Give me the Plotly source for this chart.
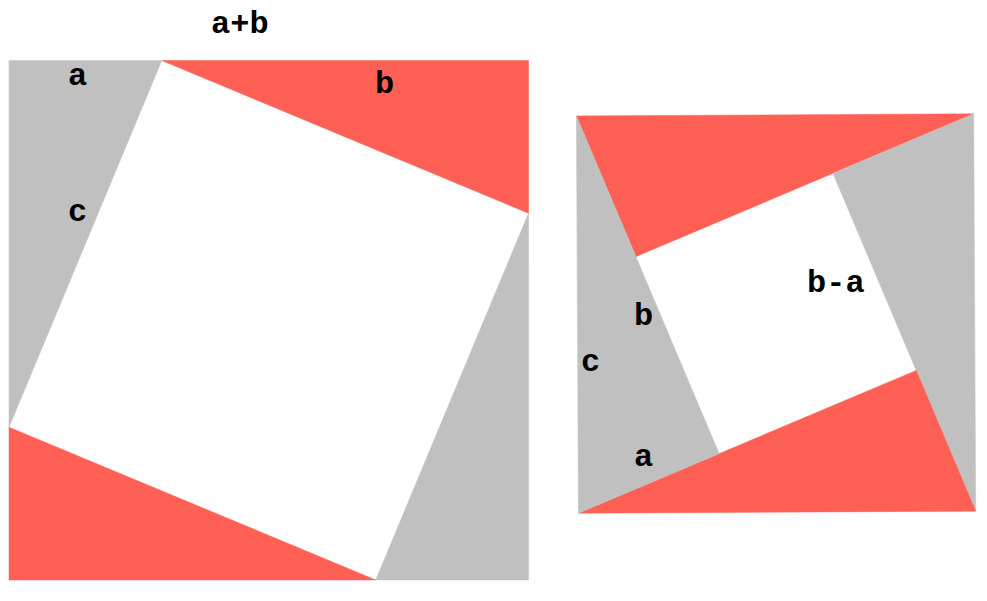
import math
import plotly.graph_objects as go

# --- data -------------------------------------------------------------
a = 5.0   # short leg
b = 12.0  # long leg
c = math.hypot(a, b)
left_labels = ["a+b", "a", "c", "b"]
right_labels = ["b-a", "b", "c", "a"]
triangle_colors = ["#C0C0C0", "#FF6056", "#C0C0C0", "#FF6056"]

# --- layout constants -------------------------------------------------
PAGE_MARGIN = 8          # browser default body margin
W, H = 987 - 2 * PAGE_MARGIN, 601 - 2 * PAGE_MARGIN
S = 30.56                # px per unit
X0, Y0 = 9 - PAGE_MARGIN, 580 - PAGE_MARGIN   # pixel of data origin inside figure
right_center = (25.10, 8.72)
right_rot = math.radians(0.29)
left_label_pos = [(7.56, 18.19), (2.23, 16.49), (2.23, 12.04), (12.30, 16.23)]
right_label_pos = [(27.06, 9.69), (20.75, 8.61), (19.04, 7.13), (20.75, 4.02)]
FONT = dict(family="Liberation Mono", size=32, color="black")

fig = go.Figure()

def add_tri(pts, color):
    xs = [p[0] for p in pts] + [pts[0][0]]
    ys = [p[1] for p in pts] + [pts[0][1]]
    fig.add_trace(go.Scatter(x=xs, y=ys, mode="lines", fill="toself",
                             fillcolor=color, line=dict(color=color, width=0.5),
                             hoverinfo="skip", showlegend=False))

# left square (side a+b): four triangles around tilted square c
n = a + b
left_tris = [
    [(0, n), (a, n), (0, a)],        # top-left  grey
    [(a, n), (n, n), (n, b)],        # top-right red
    [(n, b), (n, 0), (b, 0)],        # bottom-right grey
    [(b, 0), (0, 0), (0, a)],        # bottom-left red
]
for tri, col in zip(left_tris, triangle_colors):
    add_tri(tri, col)

# right square (side c) with inner square (b-a)
cx, cy = right_center
h = c / 2
local = [(-h, h), (h, h), (h, -h), (-h, -h)]  # TL, TR, BR, BL
cs, sn = math.cos(right_rot), math.sin(right_rot)
P = [(cx + x * cs - y * sn, cy + x * sn + y * cs) for x, y in local]
right_colors = ["#FF6056", "#C0C0C0", "#FF6056", "#C0C0C0"]
for i in range(4):
    p0, p1 = P[i], P[(i + 1) % 4]
    ux, uy = (p1[0] - p0[0]) / c, (p1[1] - p0[1]) / c
    vx, vy = uy, -ux
    q = (p0[0] + (a * a / c) * ux + (a * b / c) * vx,
         p0[1] + (a * a / c) * uy + (a * b / c) * vy)
    add_tri([p0, p1, q], right_colors[i])

for txt, (x, y) in zip(left_labels + right_labels, left_label_pos + right_label_pos):
    fig.add_annotation(x=x, y=y, text="<b>%s</b>" % txt, showarrow=False,
                       font=FONT, xanchor="center", yanchor="middle")

fig.update_layout(
    width=W, height=H, margin=dict(l=0, r=0, t=0, b=0),
    paper_bgcolor="white", plot_bgcolor="white",
    xaxis=dict(range=[-X0 / S, (W - X0) / S], visible=False, fixedrange=True),
    yaxis=dict(range=[-(H - Y0) / S, Y0 / S], visible=False, fixedrange=True),
)
fig.write_html("out.html", config={"displayModeBar": False})
